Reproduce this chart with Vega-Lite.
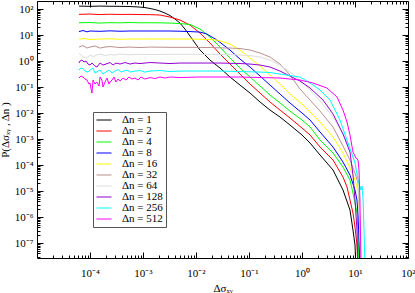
{
  "$schema": "https://vega.github.io/schema/vega-lite/v6.json",
  "width": 371,
  "height": 257,
  "autosize": {"type": "none"},
  "padding": {"left": 37, "top": 1, "right": 7, "bottom": 35},
  "config": {
    "view": {"stroke": "black", "strokeWidth": 1},
    "font": "Liberation Serif",
    "axis": {"domain": false, "grid": false, "tickColor": "black", "tickWidth": 1, "labelFont": "Liberation Serif", "labelFontSize": 11, "labelColor": "black", "titleFont": "Liberation Serif", "titleFontWeight": "normal", "titleFontSize": 11, "titleColor": "black"},
    "legend": {"rowPadding": 0}
  },
  "resolve": {"axis": {"x": "independent", "y": "independent"}},
  "layer": [
    {
      "data": {"values": [
        {"n":1,"x":6.2e-5,"y":130},{"n":1,"x":1e-4,"y":127},{"n":1,"x":1.55e-4,"y":130},{"n":1,"x":2.38e-4,"y":128},{"n":1,"x":3.68e-4,"y":127},{"n":1,"x":5.69e-4,"y":125},{"n":1,"x":8.77e-4,"y":119},{"n":1,"x":1.09e-3,"y":114},{"n":1,"x":1.36e-3,"y":105},{"n":1,"x":1.68e-3,"y":95.7},{"n":1,"x":2.09e-3,"y":83.8},{"n":1,"x":2.6e-3,"y":70.2},{"n":1,"x":3.23e-3,"y":56.2},{"n":1,"x":4.02e-3,"y":41.3},{"n":1,"x":4.99e-3,"y":28.9},{"n":1,"x":6.2e-3,"y":17.0},{"n":1,"x":7.71e-3,"y":9.16},{"n":1,"x":9.57e-3,"y":4.92},{"n":1,"x":1.19e-2,"y":2.65},{"n":1,"x":1.84e-2,"y":1.09},{"n":1,"x":2.84e-2,"y":0.538},{"n":1,"x":4.38e-2,"y":0.243},{"n":1,"x":6.76e-2,"y":0.119},{"n":1,"x":0.1045,"y":0.0588},{"n":1,"x":0.1615,"y":0.0265},{"n":1,"x":0.249,"y":0.013},{"n":1,"x":0.385,"y":7.02e-3},{"n":1,"x":0.594,"y":3.45e-3},{"n":1,"x":1.0,"y":1.43e-3},{"n":1,"x":1.42,"y":7.02e-4},{"n":1,"x":2.19,"y":2.43e-4},{"n":1,"x":3.85,"y":6.43e-5},{"n":1,"x":5.94,"y":1.09e-5},{"n":1,"x":8.05,"y":1.86e-6},{"n":1,"x":9.16,"y":3.16e-7},{"n":1,"x":10.0,"y":8.38e-8},{"n":1,"x":10.45,"y":9.1e-9},
        {"n":2,"x":6.2e-5,"y":62.5},{"n":2,"x":1e-4,"y":64.2},{"n":2,"x":1.55e-4,"y":61.4},{"n":2,"x":2.38e-4,"y":63.1},{"n":2,"x":3.68e-4,"y":62.0},{"n":2,"x":5.69e-4,"y":62.5},{"n":2,"x":8.77e-4,"y":61.4},{"n":2,"x":1.36e-3,"y":60.9},{"n":2,"x":2.09e-3,"y":58.8},{"n":2,"x":3.23e-3,"y":49.2},{"n":2,"x":4.99e-3,"y":37.8},{"n":2,"x":7.71e-3,"y":24.2},{"n":2,"x":1.19e-2,"y":11.9},{"n":2,"x":1.84e-2,"y":4.92},{"n":2,"x":2.84e-2,"y":1.86},{"n":2,"x":4.38e-2,"y":0.767},{"n":2,"x":6.76e-2,"y":0.316},{"n":2,"x":0.1045,"y":0.130},{"n":2,"x":0.1615,"y":0.0588},{"n":2,"x":0.249,"y":0.0265},{"n":2,"x":0.385,"y":0.013},{"n":2,"x":0.594,"y":6.43e-3},{"n":2,"x":1.0,"y":2.65e-3},{"n":2,"x":1.42,"y":1.43e-3},{"n":2,"x":2.19,"y":4.92e-4},{"n":2,"x":3.85,"y":1.56e-4},{"n":2,"x":5.94,"y":3.45e-5},{"n":2,"x":7.06,"y":1.43e-5},{"n":2,"x":8.05,"y":4.51e-6},{"n":2,"x":9.16,"y":1.43e-6},{"n":2,"x":10.0,"y":4.12e-7},{"n":2,"x":10.9,"y":8.38e-8},{"n":2,"x":11.4,"y":9.1e-9},
        {"n":4,"x":6.2e-5,"y":29.7},{"n":4,"x":1e-4,"y":30.3},{"n":4,"x":1.55e-4,"y":28.9},{"n":4,"x":2.38e-4,"y":30.0},{"n":4,"x":3.68e-4,"y":29.5},{"n":4,"x":5.69e-4,"y":30.3},{"n":4,"x":8.77e-4,"y":29.7},{"n":4,"x":1.36e-3,"y":29.7},{"n":4,"x":2.09e-3,"y":29.5},{"n":4,"x":3.23e-3,"y":28.9},{"n":4,"x":4.99e-3,"y":27.7},{"n":4,"x":7.71e-3,"y":25.4},{"n":4,"x":1.19e-2,"y":17.0},{"n":4,"x":1.84e-2,"y":8.38},{"n":4,"x":2.84e-2,"y":3.45},{"n":4,"x":4.38e-2,"y":1.30},{"n":4,"x":6.76e-2,"y":0.538},{"n":4,"x":0.1045,"y":0.243},{"n":4,"x":0.1615,"y":0.109},{"n":4,"x":0.249,"y":0.0492},{"n":4,"x":0.385,"y":0.0243},{"n":4,"x":0.594,"y":0.0119},{"n":4,"x":1.0,"y":5.38e-3},{"n":4,"x":1.42,"y":2.9e-3},{"n":4,"x":2.19,"y":9.16e-4},{"n":4,"x":3.85,"y":2.9e-4},{"n":4,"x":5.94,"y":8.38e-5},{"n":4,"x":8.05,"y":2.65e-5},{"n":4,"x":9.16,"y":8.38e-6},{"n":4,"x":10.0,"y":3.45e-6},{"n":4,"x":10.9,"y":1.43e-6},{"n":4,"x":11.4,"y":2.65e-7},{"n":4,"x":11.9,"y":9.1e-9},
        {"n":8,"x":6.2e-5,"y":13.6},{"n":8,"x":7.38e-5,"y":14.9},{"n":8,"x":8.77e-5,"y":13.3},{"n":8,"x":1e-4,"y":14.3},{"n":8,"x":1.55e-4,"y":13.9},{"n":8,"x":2.38e-4,"y":14.5},{"n":8,"x":3.68e-4,"y":14.0},{"n":8,"x":5.69e-4,"y":14.3},{"n":8,"x":8.77e-4,"y":14.3},{"n":8,"x":1.36e-3,"y":14.3},{"n":8,"x":2.09e-3,"y":14.3},{"n":8,"x":3.23e-3,"y":14.3},{"n":8,"x":4.99e-3,"y":14.0},{"n":8,"x":7.71e-3,"y":13.6},{"n":8,"x":1.19e-2,"y":13.0},{"n":8,"x":1.61e-2,"y":10.9},{"n":8,"x":2.49e-2,"y":6.42},{"n":8,"x":4.38e-2,"y":2.65},{"n":8,"x":6.76e-2,"y":1.19},{"n":8,"x":0.1045,"y":0.588},{"n":8,"x":0.1615,"y":0.265},{"n":8,"x":0.249,"y":0.119},{"n":8,"x":0.385,"y":0.0538},{"n":8,"x":0.594,"y":0.0243},{"n":8,"x":1.0,"y":0.01},{"n":8,"x":1.42,"y":5.38e-3},{"n":8,"x":2.19,"y":1.86e-3},{"n":8,"x":3.85,"y":4.92e-4},{"n":8,"x":5.94,"y":1.30e-4},{"n":8,"x":8.05,"y":4.12e-5},{"n":8,"x":10.0,"y":1.09e-5},{"n":8,"x":10.9,"y":4.51e-6},{"n":8,"x":11.4,"y":1.19e-6},{"n":8,"x":11.9,"y":1.30e-7},{"n":8,"x":12.4,"y":9.1e-9},
        {"n":16,"x":6.2e-5,"y":7.02},{"n":16,"x":8.05e-5,"y":7.33},{"n":16,"x":1e-4,"y":6.72},{"n":16,"x":1.55e-4,"y":7.02},{"n":16,"x":2.38e-4,"y":7.14},{"n":16,"x":3.68e-4,"y":6.89},{"n":16,"x":5.69e-4,"y":7.02},{"n":16,"x":1.36e-3,"y":7.02},{"n":16,"x":3.23e-3,"y":7.02},{"n":16,"x":7.71e-3,"y":7.02},{"n":16,"x":1.19e-2,"y":6.89},{"n":16,"x":1.84e-2,"y":6.72},{"n":16,"x":2.49e-2,"y":6.42},{"n":16,"x":4.38e-2,"y":4.51},{"n":16,"x":6.76e-2,"y":2.65},{"n":16,"x":0.1045,"y":1.30},{"n":16,"x":0.1615,"y":0.643},{"n":16,"x":0.249,"y":0.29},{"n":16,"x":0.385,"y":0.130},{"n":16,"x":0.594,"y":0.0538},{"n":16,"x":1.0,"y":0.0222},{"n":16,"x":1.42,"y":0.0109},{"n":16,"x":2.19,"y":4.51e-3},{"n":16,"x":3.85,"y":1.19e-3},{"n":16,"x":5.94,"y":2.9e-4},{"n":16,"x":8.05,"y":7.67e-5},{"n":16,"x":10.0,"y":2.65e-5},{"n":16,"x":11.4,"y":9.16e-6},{"n":16,"x":12.4,"y":1.19e-6},{"n":16,"x":13.0,"y":9.1e-9},
        {"n":32,"x":6.2e-5,"y":3.45},{"n":32,"x":7.38e-5,"y":3.94},{"n":32,"x":8.77e-5,"y":3.16},{"n":32,"x":1e-4,"y":3.45},{"n":32,"x":1.24e-4,"y":3.78},{"n":32,"x":1.55e-4,"y":3.16},{"n":32,"x":1.92e-4,"y":3.45},{"n":32,"x":2.38e-4,"y":3.61},{"n":32,"x":3.68e-4,"y":3.30},{"n":32,"x":5.69e-4,"y":3.45},{"n":32,"x":8.77e-4,"y":3.30},{"n":32,"x":1.36e-3,"y":3.45},{"n":32,"x":3.23e-3,"y":3.37},{"n":32,"x":7.71e-3,"y":3.37},{"n":32,"x":1.84e-2,"y":3.30},{"n":32,"x":4.38e-2,"y":3.16},{"n":32,"x":6.76e-2,"y":3.03},{"n":32,"x":0.1045,"y":2.65},{"n":32,"x":0.1615,"y":2.03},{"n":32,"x":0.249,"y":1.43},{"n":32,"x":0.385,"y":0.767},{"n":32,"x":0.594,"y":0.29},{"n":32,"x":0.916,"y":0.0838},{"n":32,"x":1.42,"y":0.0316},{"n":32,"x":2.19,"y":0.0119},{"n":32,"x":3.85,"y":2.9e-3},{"n":32,"x":5.94,"y":5.38e-4},{"n":32,"x":8.05,"y":1.56e-4},{"n":32,"x":10.0,"y":4.92e-5},{"n":32,"x":11.4,"y":2.03e-5},{"n":32,"x":11.9,"y":4.51e-6},{"n":32,"x":12.4,"y":4.92e-7},{"n":32,"x":13.0,"y":9.1e-9},
        {"n":64,"x":6.2e-5,"y":2.03},{"n":64,"x":7.06e-5,"y":1.56},{"n":64,"x":8.05e-5,"y":1.30},{"n":64,"x":9.16e-5,"y":1.43},{"n":64,"x":1e-4,"y":1.70},{"n":64,"x":1.14e-4,"y":1.49},{"n":64,"x":1.35e-4,"y":1.70},{"n":64,"x":1.55e-4,"y":1.86},{"n":64,"x":1.92e-4,"y":1.63},{"n":64,"x":2.38e-4,"y":1.78},{"n":64,"x":2.96e-4,"y":1.70},{"n":64,"x":3.68e-4,"y":1.86},{"n":64,"x":5.69e-4,"y":1.73},{"n":64,"x":8.77e-4,"y":1.81},{"n":64,"x":1.36e-3,"y":1.78},{"n":64,"x":3.23e-3,"y":1.81},{"n":64,"x":7.71e-3,"y":1.81},{"n":64,"x":1.84e-2,"y":1.81},{"n":64,"x":4.38e-2,"y":1.78},{"n":64,"x":0.1045,"y":1.63},{"n":64,"x":0.1615,"y":1.43},{"n":64,"x":0.249,"y":1.09},{"n":64,"x":0.385,"y":0.702},{"n":64,"x":0.594,"y":0.377},{"n":64,"x":0.916,"y":0.186},{"n":64,"x":1.42,"y":0.0767},{"n":64,"x":2.19,"y":0.029},{"n":64,"x":3.85,"y":7.02e-3},{"n":64,"x":5.94,"y":1.56e-3},{"n":64,"x":8.05,"y":4.51e-4},{"n":64,"x":10.0,"y":1.30e-4},{"n":64,"x":11.4,"y":3.78e-5},{"n":64,"x":11.9,"y":4.51e-6},{"n":64,"x":12.4,"y":3.16e-7},{"n":64,"x":13.0,"y":9.1e-9},
        {"n":128,"x":6.2e-5,"y":0.838},{"n":128,"x":6.48e-5,"y":1.0},{"n":128,"x":7.06e-5,"y":1.09},{"n":128,"x":7.71e-5,"y":0.916},{"n":128,"x":8.41e-5,"y":1.0},{"n":128,"x":9.16e-5,"y":0.767},{"n":128,"x":1e-4,"y":0.702},{"n":128,"x":1.09e-4,"y":0.838},{"n":128,"x":1.24e-4,"y":0.643},{"n":128,"x":1.35e-4,"y":0.588},{"n":128,"x":1.55e-4,"y":0.838},{"n":128,"x":1.76e-4,"y":0.702},{"n":128,"x":2.0e-4,"y":0.767},{"n":128,"x":2.38e-4,"y":0.876},{"n":128,"x":2.72e-4,"y":0.702},{"n":128,"x":3.09e-4,"y":0.838},{"n":128,"x":3.68e-4,"y":0.767},{"n":128,"x":4.57e-4,"y":0.876},{"n":128,"x":5.69e-4,"y":0.767},{"n":128,"x":7.06e-4,"y":0.838},{"n":128,"x":8.77e-4,"y":0.801},{"n":128,"x":1.36e-3,"y":0.876},{"n":128,"x":2.09e-3,"y":0.838},{"n":128,"x":3.23e-3,"y":0.801},{"n":128,"x":4.99e-3,"y":0.838},{"n":128,"x":1.19e-2,"y":0.838},{"n":128,"x":2.84e-2,"y":0.838},{"n":128,"x":6.76e-2,"y":0.801},{"n":128,"x":0.1045,"y":0.767},{"n":128,"x":0.1615,"y":0.702},{"n":128,"x":0.249,"y":0.588},{"n":128,"x":0.385,"y":0.412},{"n":128,"x":0.594,"y":0.265},{"n":128,"x":0.916,"y":0.170},{"n":128,"x":1.42,"y":0.0916},{"n":128,"x":2.49,"y":0.0316},{"n":128,"x":3.85,"y":9.16e-3},{"n":128,"x":5.94,"y":1.56e-3},{"n":128,"x":8.05,"y":3.16e-4},{"n":128,"x":9.16,"y":4.12e-5},{"n":128,"x":10.0,"y":4.51e-6},{"n":128,"x":10.9,"y":3.16e-7},{"n":128,"x":11.4,"y":9.1e-9},
        {"n":256,"x":6.2e-5,"y":0.451},{"n":256,"x":6.76e-5,"y":0.538},{"n":256,"x":7.38e-5,"y":0.515},{"n":256,"x":8.05e-5,"y":0.412},{"n":256,"x":9.16e-5,"y":0.377},{"n":256,"x":1e-4,"y":0.451},{"n":256,"x":1.14e-4,"y":0.538},{"n":256,"x":1.24e-4,"y":0.345},{"n":256,"x":1.42e-4,"y":0.412},{"n":256,"x":1.55e-4,"y":0.451},{"n":256,"x":1.76e-4,"y":0.316},{"n":256,"x":2.0e-4,"y":0.377},{"n":256,"x":2.28e-4,"y":0.451},{"n":256,"x":2.6e-4,"y":0.345},{"n":256,"x":2.96e-4,"y":0.412},{"n":256,"x":3.37e-4,"y":0.471},{"n":256,"x":3.85e-4,"y":0.377},{"n":256,"x":4.38e-4,"y":0.412},{"n":256,"x":4.99e-4,"y":0.451},{"n":256,"x":5.69e-4,"y":0.377},{"n":256,"x":7.06e-4,"y":0.412},{"n":256,"x":8.77e-4,"y":0.431},{"n":256,"x":1.09e-3,"y":0.377},{"n":256,"x":1.36e-3,"y":0.412},{"n":256,"x":2.09e-3,"y":0.431},{"n":256,"x":3.23e-3,"y":0.394},{"n":256,"x":4.99e-3,"y":0.412},{"n":256,"x":1.19e-2,"y":0.412},{"n":256,"x":2.84e-2,"y":0.412},{"n":256,"x":6.76e-2,"y":0.394},{"n":256,"x":0.1615,"y":0.377},{"n":256,"x":0.249,"y":0.361},{"n":256,"x":0.385,"y":0.316},{"n":256,"x":0.594,"y":0.277},{"n":256,"x":0.916,"y":0.243},{"n":256,"x":1.42,"y":0.143},{"n":256,"x":2.19,"y":0.0767},{"n":256,"x":3.38,"y":0.0316},{"n":256,"x":5.21,"y":5.38e-3},{"n":256,"x":7.38,"y":7.02e-4},{"n":256,"x":10.0,"y":1.19e-4},{"n":256,"x":11.4,"y":2.65e-5},{"n":256,"x":13.0,"y":1.09e-5},{"n":256,"x":13.6,"y":1.56e-5},{"n":256,"x":14.2,"y":4.51e-6},{"n":256,"x":14.8,"y":3.16e-7},{"n":256,"x":15.5,"y":9.1e-9},
        {"n":512,"x":6.2e-5,"y":0.222},{"n":512,"x":6.76e-5,"y":0.265},{"n":512,"x":7.38e-5,"y":0.243},{"n":512,"x":8.05e-5,"y":0.203},{"n":512,"x":8.77e-5,"y":0.186},{"n":512,"x":9.57e-5,"y":0.130},{"n":512,"x":1e-4,"y":0.143},{"n":512,"x":1.04e-4,"y":0.0916},{"n":512,"x":1.09e-4,"y":0.0588},{"n":512,"x":1.14e-4,"y":0.186},{"n":512,"x":1.24e-4,"y":0.130},{"n":512,"x":1.35e-4,"y":0.156},{"n":512,"x":1.48e-4,"y":0.109},{"n":512,"x":1.55e-4,"y":0.243},{"n":512,"x":1.68e-4,"y":0.186},{"n":512,"x":1.76e-4,"y":0.1},{"n":512,"x":1.92e-4,"y":0.156},{"n":512,"x":2.09e-4,"y":0.222},{"n":512,"x":2.28e-4,"y":0.130},{"n":512,"x":2.38e-4,"y":0.156},{"n":512,"x":2.6e-4,"y":0.186},{"n":512,"x":2.84e-4,"y":0.243},{"n":512,"x":3.09e-4,"y":0.156},{"n":512,"x":3.37e-4,"y":0.203},{"n":512,"x":3.68e-4,"y":0.170},{"n":512,"x":4.2e-4,"y":0.222},{"n":512,"x":4.78e-4,"y":0.186},{"n":512,"x":5.44e-4,"y":0.243},{"n":512,"x":6.2e-4,"y":0.203},{"n":512,"x":7.06e-4,"y":0.222},{"n":512,"x":8.05e-4,"y":0.186},{"n":512,"x":9.16e-4,"y":0.243},{"n":512,"x":1.09e-3,"y":0.203},{"n":512,"x":1.36e-3,"y":0.232},{"n":512,"x":1.68e-3,"y":0.212},{"n":512,"x":2.09e-3,"y":0.243},{"n":512,"x":2.6e-3,"y":0.222},{"n":512,"x":3.23e-3,"y":0.243},{"n":512,"x":4.99e-3,"y":0.232},{"n":512,"x":1.19e-2,"y":0.243},{"n":512,"x":2.84e-2,"y":0.243},{"n":512,"x":6.76e-2,"y":0.243},{"n":512,"x":0.1615,"y":0.232},{"n":512,"x":0.385,"y":0.222},{"n":512,"x":0.916,"y":0.186},{"n":512,"x":1.61,"y":0.143},{"n":512,"x":2.96,"y":0.0916},{"n":512,"x":4.57,"y":0.0412},{"n":512,"x":5.94,"y":0.013},{"n":512,"x":7.06,"y":4.51e-3},{"n":512,"x":8.05,"y":1.43e-3},{"n":512,"x":9.16,"y":3.16e-4},{"n":512,"x":10.45,"y":1.86e-4},{"n":512,"x":11.4,"y":1.56e-4},{"n":512,"x":11.9,"y":6.43e-5},{"n":512,"x":12.4,"y":4.51e-6},{"n":512,"x":13.0,"y":9.1e-9}
      ]},
      "mark": {"type": "line", "strokeWidth": 1, "clip": true},
      "encoding": {
        "x": {"field": "x", "type": "quantitative",
          "scale": {"type": "log", "domain": [1e-5, 100], "nice": false},
          "axis": {"orient": "bottom", "values": [1e-4, 1e-3, 1e-2, 0.1, 1, 10, 100], "tickSize": -6, "labelPadding": 15, "labelExpr": "'10' + (round(log(datum.value)/LN10) < 0 ? '⁻' : '') + ['⁰','¹','²','³','⁴','⁵','⁶','⁷','⁸','⁹'][abs(round(log(datum.value)/LN10))]", "labelFlush": false, "labelOverlap": false, "title": "Δσₓᵧ", "titlePadding": 4}},
        "y": {"field": "y", "type": "quantitative",
          "scale": {"type": "log", "domain": [2.65e-8, 204], "nice": false},
          "axis": {"orient": "left", "values": [1e-7, 1e-6, 1e-5, 1e-4, 1e-3, 1e-2, 0.1, 1, 10, 100], "tickSize": -6, "labelPadding": 10, "labelExpr": "'10' + (round(log(datum.value)/LN10) < 0 ? '⁻' : '') + ['⁰','¹','²','³','⁴','⁵','⁶','⁷','⁸','⁹'][abs(round(log(datum.value)/LN10))]", "labelFlush": false, "labelOverlap": false, "title": "P(Δσₓᵧ , Δn )", "titlePadding": 4}},
        "color": {"field": "n", "type": "nominal",
          "scale": {"domain": [1, 2, 4, 8, 16, 32, 64, 128, 256, 512], "range": ["#000000", "#ff0000", "#00ff00", "#0000ff", "#ffff00", "#bc8f8f", "#dcdcdc", "#9400d3", "#00ffff", "#ff00ff"]},
          "legend": {"orient": "none", "legendX": 56, "legendY": 111, "title": null, "symbolType": "stroke", "symbolSize": 225, "symbolStrokeWidth": 1, "labelFont": "Liberation Serif", "labelFontSize": 11, "labelColor": "black", "labelExpr": "'Δn = ' + datum.label", "labelOffset": 10, "strokeColor": "#555555", "fillColor": "white", "padding": 3, "clipHeight": 10, "rowPadding": 0}}
      }
    },
    {
      "data": {"values": [{"x": 1, "y": 1}]},
      "mark": {"type": "point", "opacity": 0},
      "encoding": {
        "x": {"field": "x", "type": "quantitative", "scale": {"type": "log", "domain": [1e-5, 100], "nice": false},
          "axis": {"orient": "bottom", "values": [2e-5,3e-5,4e-5,5e-5,6e-5,7e-5,8e-5,9e-5,2e-4,3e-4,4e-4,5e-4,6e-4,7e-4,8e-4,9e-4,2e-3,3e-3,4e-3,5e-3,6e-3,7e-3,8e-3,9e-3,0.02,0.03,0.04,0.05,0.06,0.07,0.08,0.09,0.2,0.3,0.4,0.5,0.6,0.7,0.8,0.9,2,3,4,5,6,7,8,9,20,30,40,50,60,70,80,90], "tickSize": -3, "labels": false, "title": null}},
        "y": {"field": "y", "type": "quantitative", "scale": {"type": "log", "domain": [2.65e-8, 204], "nice": false},
          "axis": {"orient": "left", "values": [3e-8,4e-8,5e-8,6e-8,7e-8,8e-8,9e-8,2e-7,3e-7,4e-7,5e-7,6e-7,7e-7,8e-7,9e-7,2e-6,3e-6,4e-6,5e-6,6e-6,7e-6,8e-6,9e-6,2e-5,3e-5,4e-5,5e-5,6e-5,7e-5,8e-5,9e-5,2e-4,3e-4,4e-4,5e-4,6e-4,7e-4,8e-4,9e-4,2e-3,3e-3,4e-3,5e-3,6e-3,7e-3,8e-3,9e-3,0.02,0.03,0.04,0.05,0.06,0.07,0.08,0.09,0.2,0.3,0.4,0.5,0.6,0.7,0.8,0.9,2,3,4,5,6,7,8,9,20,30,40,50,60,70,80,90,200], "tickSize": -3, "labels": false, "title": null}}
      }
    },
    {
      "data": {"values": [{"x": 1, "y": 1}]},
      "mark": {"type": "point", "opacity": 0},
      "encoding": {
        "x": {"field": "x", "type": "quantitative", "scale": {"type": "log", "domain": [1e-5, 100], "nice": false},
          "axis": {"orient": "top", "values": [1e-4, 1e-3, 1e-2, 0.1, 1, 10], "tickSize": -6, "labels": false, "title": null}},
        "y": {"field": "y", "type": "quantitative", "scale": {"type": "log", "domain": [2.65e-8, 204], "nice": false},
          "axis": {"orient": "right", "values": [1e-7, 1e-6, 1e-5, 1e-4, 1e-3, 1e-2, 0.1, 1, 10, 100], "tickSize": -6, "labels": false, "title": null}}
      }
    },
    {
      "data": {"values": [{"x": 1, "y": 1}]},
      "mark": {"type": "point", "opacity": 0},
      "encoding": {
        "x": {"field": "x", "type": "quantitative", "scale": {"type": "log", "domain": [1e-5, 100], "nice": false},
          "axis": {"orient": "top", "values": [2e-5,3e-5,4e-5,5e-5,6e-5,7e-5,8e-5,9e-5,2e-4,3e-4,4e-4,5e-4,6e-4,7e-4,8e-4,9e-4,2e-3,3e-3,4e-3,5e-3,6e-3,7e-3,8e-3,9e-3,0.02,0.03,0.04,0.05,0.06,0.07,0.08,0.09,0.2,0.3,0.4,0.5,0.6,0.7,0.8,0.9,2,3,4,5,6,7,8,9,20,30,40,50,60,70,80,90], "tickSize": -3, "labels": false, "title": null}},
        "y": {"field": "y", "type": "quantitative", "scale": {"type": "log", "domain": [2.65e-8, 204], "nice": false},
          "axis": {"orient": "right", "values": [3e-8,4e-8,5e-8,6e-8,7e-8,8e-8,9e-8,2e-7,3e-7,4e-7,5e-7,6e-7,7e-7,8e-7,9e-7,2e-6,3e-6,4e-6,5e-6,6e-6,7e-6,8e-6,9e-6,2e-5,3e-5,4e-5,5e-5,6e-5,7e-5,8e-5,9e-5,2e-4,3e-4,4e-4,5e-4,6e-4,7e-4,8e-4,9e-4,2e-3,3e-3,4e-3,5e-3,6e-3,7e-3,8e-3,9e-3,0.02,0.03,0.04,0.05,0.06,0.07,0.08,0.09,0.2,0.3,0.4,0.5,0.6,0.7,0.8,0.9,2,3,4,5,6,7,8,9,20,30,40,50,60,70,80,90,200], "tickSize": -3, "labels": false, "title": null}}
      }
    }
  ]
}
